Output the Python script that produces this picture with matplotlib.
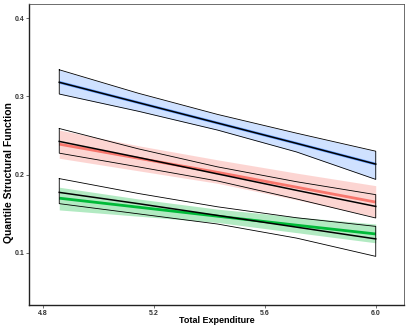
import matplotlib
matplotlib.use("Agg")
import matplotlib.pyplot as plt
import numpy as np

plt.rcParams['font.family'] = ['Liberation Sans', 'DejaVu Sans']

x = [4.86, 5.145, 5.43, 5.715, 6.0]

# black-outlined bands (reference estimates)
blue_k_mid = [0.318, 0.292, 0.266, 0.240, 0.2135]
blue_k_lo = [0.303, 0.281, 0.257, 0.229, 0.194]
blue_k_hi = [0.334, 0.304, 0.277, 0.253, 0.230]
red_k_mid = [0.2425, 0.222, 0.201, 0.180, 0.1595]
red_k_lo = [0.2275, 0.210, 0.192, 0.169, 0.1447]
red_k_hi = [0.259, 0.233, 0.210, 0.191, 0.1745]
green_k_mid = [0.1774, 0.163, 0.148, 0.133, 0.118]
green_k_lo = [0.163, 0.150, 0.137, 0.119, 0.0957]
green_k_hi = [0.195, 0.176, 0.159, 0.145, 0.134]

# coloured bands
blue_mid = [0.318, 0.292, 0.266, 0.240, 0.2135]
blue_lo = [0.303, 0.281, 0.257, 0.229, 0.194]
blue_hi = [0.334, 0.304, 0.277, 0.253, 0.230]
red_mid = [0.239, 0.221, 0.203, 0.184, 0.165]
red_lo = [0.221, 0.205, 0.189, 0.168, 0.146]
red_hi = [0.257, 0.237, 0.219, 0.202, 0.186]
green_mid = [0.170, 0.1585, 0.147, 0.1355, 0.1243]
green_lo = [0.155, 0.147, 0.139, 0.126, 0.113]
green_hi = [0.184, 0.169, 0.156, 0.146, 0.137]

xticks = [4.8, 5.2, 5.6, 6.0]
yticks = [0.1, 0.2, 0.3, 0.4]

fig = plt.figure(figsize=(4.09, 3.27), dpi=100)
ax = fig.add_axes([0.0709, 0.0673, 0.917, 0.9205])

colored = [
    ("#619CFF", blue_mid, blue_lo, blue_hi),
    ("#F8766D", red_mid, red_lo, red_hi),
    ("#00BA38", green_mid, green_lo, green_hi),
]
for col, m, lo, hi in colored:
    ax.fill_between(x, lo, hi, color=col, alpha=0.3, linewidth=0)
    ax.plot(x, m, color=col, lw=2.0, solid_capstyle='butt')

outlined = [
    (blue_k_mid, blue_k_lo, blue_k_hi),
    (red_k_mid, red_k_lo, red_k_hi),
    (green_k_mid, green_k_lo, green_k_hi),
]
for m, lo, hi in outlined:
    px = list(x) + list(x[::-1]) + [x[0]]
    py = list(hi) + list(lo[::-1]) + [hi[0]]
    ax.plot(px, py, color='black', lw=0.6)
    ax.plot(x, m, color='black', lw=1.1)

ax.set_xlim(4.751, 6.102)
ax.set_ylim(0.0336, 0.418)
ax.set_xticks(xticks)
ax.set_xticklabels([f"{v:.1f}" for v in xticks], fontweight='bold')
ax.set_yticks(yticks)
ax.set_yticklabels([f"{v:.1f}" for v in yticks], fontweight='bold')
ax.tick_params(axis='both', length=2, width=0.5, color='#333333', labelsize=5, pad=1.5, labelcolor='#333333')
for s in ['left', 'bottom']:
    ax.spines[s].set_linewidth(1.0)
    ax.spines[s].set_color('#222222')
for s in ['top', 'right']:
    ax.spines[s].set_linewidth(0.6)
    ax.spines[s].set_color('#555555')
ax.set_xlabel("Total Expenditure", fontsize=6.5, fontweight='bold')
ax.xaxis.set_label_coords(0.5, -0.038)
ax.set_ylabel("Quantile Structural Function", fontsize=7.5, fontweight='bold')
ax.yaxis.set_label_coords(-0.04, 0.44)

fig.savefig("out.png", dpi=100)
